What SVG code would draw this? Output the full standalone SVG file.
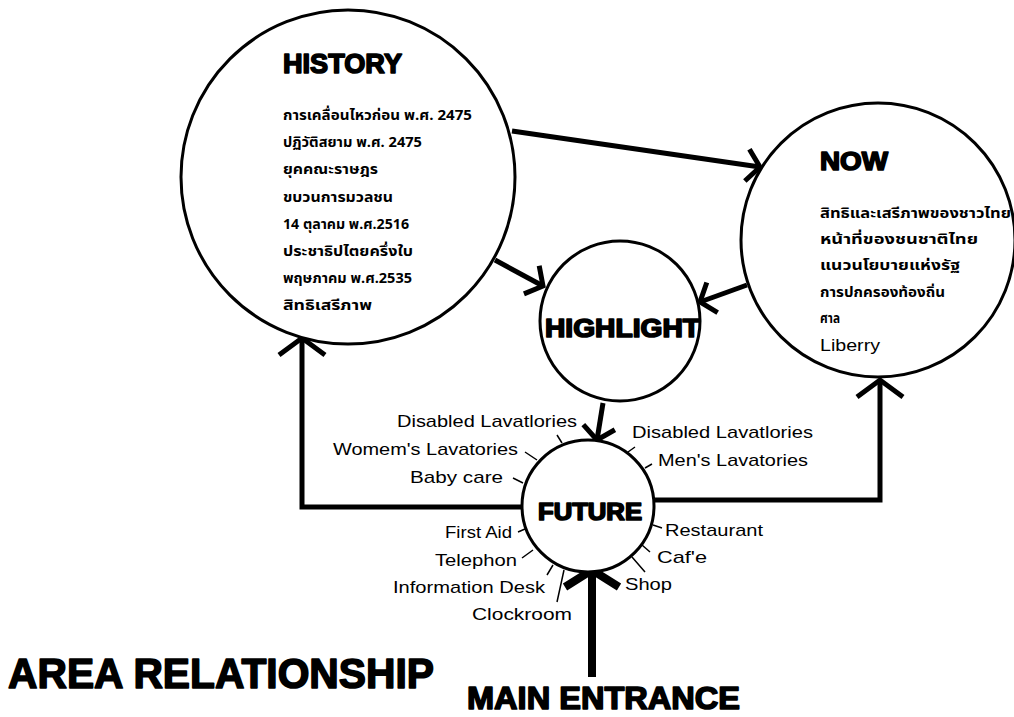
<svg xmlns="http://www.w3.org/2000/svg" width="1014" height="717" viewBox="0 0 1014 717">
<style>
.node{fill:#fff;stroke:#000;stroke-width:3}
.conn{fill:none;stroke:#000;stroke-width:5}
.head{font-family:"Liberation Sans",Arial,sans-serif;font-weight:bold;fill:#000;stroke:#000;stroke-width:1.6;stroke-linejoin:round}
.thai{font-family:"Noto Sans Thai","Noto Sans","DejaVu Sans",sans-serif;font-size:14px;font-weight:bold;fill:#000}
.lab{font-family:"Liberation Sans",Arial,sans-serif;font-size:17px;fill:#000}
.tick{fill:none;stroke:#000;stroke-width:1.5}
</style>
<defs>
<marker id="arr" markerUnits="userSpaceOnUse" markerWidth="10" markerHeight="10" refX="0" refY="0" orient="auto" overflow="visible">
<path d="M-13,-16 L0,0 L-13,16" fill="none" stroke="#000" stroke-width="5"/>
</marker>
<marker id="arrW" markerUnits="userSpaceOnUse" markerWidth="10" markerHeight="10" refX="0" refY="0" orient="auto" overflow="visible">
<path d="M-17,-23 L0,0 L-17,23" fill="none" stroke="#000" stroke-width="5"/>
</marker>
<marker id="arrB" markerUnits="userSpaceOnUse" markerWidth="10" markerHeight="10" refX="0" refY="0" orient="auto" overflow="visible">
<path d="M-17,-27 L0,0 L-17,27" fill="none" stroke="#000" stroke-width="8"/>
</marker>
</defs>
<rect width="1014" height="717" fill="#fff"/>

<g id="connectors">
<path class="conn" d="M512,131 L760,167" marker-end="url(#arr)"/>
<path class="conn" d="M495,260 L543,286" marker-end="url(#arr)"/>
<path class="conn" d="M747,285 L700,302" marker-end="url(#arr)"/>
<path class="conn" d="M603,403 L597,440" marker-end="url(#arr)"/>
<path class="conn" d="M522,507 L302,507 L302,338" marker-end="url(#arrW)"/>
<path class="conn" d="M653,500 L880,500 L880,380" marker-end="url(#arrW)"/>
<path class="conn" style="stroke-width:8" d="M592,677 L592,570" marker-end="url(#arrB)"/>
</g>

<g id="history">
<circle class="node" cx="348" cy="177" r="167"/>
<text class="head" x="283" y="73" font-size="27" textLength="119" lengthAdjust="spacingAndGlyphs">HISTORY</text>
<text class="thai" x="283" y="120" textLength="189" lengthAdjust="spacingAndGlyphs">การเคลื่อนไหวก่อน พ.ศ. 2475</text>
<text class="thai" x="283" y="147" textLength="139" lengthAdjust="spacingAndGlyphs">ปฏิวัติสยาม พ.ศ. 2475</text>
<text class="thai" x="283" y="174" textLength="95" lengthAdjust="spacingAndGlyphs">ยุคคณะราษฎร</text>
<text class="thai" x="283" y="202" textLength="110" lengthAdjust="spacingAndGlyphs">ขบวนการมวลชน</text>
<text class="thai" x="283" y="229" textLength="126" lengthAdjust="spacingAndGlyphs">14 ตุลาคม พ.ศ.2516</text>
<text class="thai" x="283" y="256" textLength="130" lengthAdjust="spacingAndGlyphs">ประชาธิปไตยครึ่งใบ</text>
<text class="thai" x="283" y="283" textLength="129" lengthAdjust="spacingAndGlyphs">พฤษภาคม พ.ศ.2535</text>
<text class="thai" x="283" y="310" textLength="89" lengthAdjust="spacingAndGlyphs">สิทธิเสรีภาพ</text>
</g>

<g id="now">
<circle class="node" cx="878" cy="240" r="137"/>
<text class="head" x="820" y="170" font-size="25" textLength="68" lengthAdjust="spacingAndGlyphs">NOW</text>
<text class="thai" x="820" y="218" textLength="191" lengthAdjust="spacingAndGlyphs">สิทธิและเสรีภาพของชาวไทย</text>
<text class="thai" x="820" y="244" textLength="158" lengthAdjust="spacingAndGlyphs">หน้าที่ของชนชาติไทย</text>
<text class="thai" x="820" y="270" textLength="140" lengthAdjust="spacingAndGlyphs">แนวนโยบายแห่งรัฐ</text>
<text class="thai" x="820" y="297" textLength="125" lengthAdjust="spacingAndGlyphs">การปกครองท้องถิ่น</text>
<text class="thai" x="820" y="323" textLength="20" lengthAdjust="spacingAndGlyphs">ศาล</text>
<text class="lab" x="820" y="351" font-size="16" textLength="60" lengthAdjust="spacingAndGlyphs">Liberry</text>
</g>

<g id="highlight">
<circle class="node" cx="620" cy="321" r="80"/>
<text class="head" x="545" y="337" font-size="25" textLength="155" lengthAdjust="spacingAndGlyphs">HIGHLIGHT</text>
</g>

<g id="future">
<circle class="node" cx="588" cy="506" r="66"/>
<text class="head" x="538" y="520" font-size="23" textLength="104" lengthAdjust="spacingAndGlyphs">FUTURE</text>
</g>

<g id="facilities">
<path class="tick" d="M557,435 L562,443 M525,452 L537,460 M513,478 L523,483 M518,532 L525,529 M522,558 L533,550 M547,575 L553,565 M557,602 L564,570 M628,452 L635,447 M645,468 L652,464 M653,525 L662,528 M642,545 L650,552 M632,557 L645,572"/>
<text class="lab" x="577" y="427" text-anchor="end" textLength="180" lengthAdjust="spacingAndGlyphs">Disabled Lavatlories</text>
<text class="lab" x="518" y="455" text-anchor="end" textLength="185" lengthAdjust="spacingAndGlyphs">Womem's Lavatories</text>
<text class="lab" x="503" y="483" text-anchor="end" textLength="93" lengthAdjust="spacingAndGlyphs">Baby care</text>
<text class="lab" x="512" y="538" text-anchor="end" textLength="67" lengthAdjust="spacingAndGlyphs">First Aid</text>
<text class="lab" x="517" y="566" text-anchor="end" textLength="82" lengthAdjust="spacingAndGlyphs">Telephon</text>
<text class="lab" x="545" y="593" text-anchor="end" textLength="152" lengthAdjust="spacingAndGlyphs">Information Desk</text>
<text class="lab" x="472" y="620" textLength="100" lengthAdjust="spacingAndGlyphs">Clockroom</text>
<text class="lab" x="632" y="438" textLength="181" lengthAdjust="spacingAndGlyphs">Disabled Lavatlories</text>
<text class="lab" x="658" y="466" textLength="150" lengthAdjust="spacingAndGlyphs">Men's Lavatories</text>
<text class="lab" x="665" y="536" textLength="98" lengthAdjust="spacingAndGlyphs">Restaurant</text>
<text class="lab" x="657" y="563" textLength="50" lengthAdjust="spacingAndGlyphs">Caf'e</text>
<text class="lab" x="625" y="590" textLength="47" lengthAdjust="spacingAndGlyphs">Shop</text>
</g>

<g id="titles">
<text class="head" x="8" y="688" font-size="42" textLength="426" lengthAdjust="spacingAndGlyphs">AREA RELATIONSHIP</text>
<text class="head" x="467" y="709" font-size="32" textLength="273" lengthAdjust="spacingAndGlyphs">MAIN ENTRANCE</text>
</g>
</svg>
